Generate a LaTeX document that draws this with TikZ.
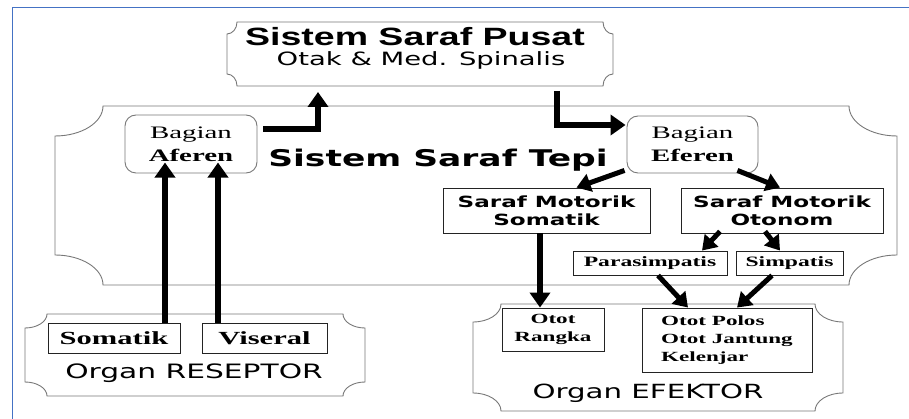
\documentclass[tikz,border=0pt]{standalone}
\usepackage{fontspec}
\usetikzlibrary{arrows.meta,calc}
\newfontfamily\headfont[FakeStretch=1.5]{Liberation Sans}
\newfontfamily\comicfont[FakeStretch=1.5]{DejaVu Sans}
\newfontfamily\bodyfont[FakeStretch=1.65]{Liberation Serif}
\definecolor{frameblue}{RGB}{68,114,196}
\definecolor{linegray}{RGB}{120,120,120}
\definecolor{boxblack}{RGB}{35,35,35}

% frame with hollow corners round an empty node
\newcommand{\plaqueframe}[3]{%
  \draw[plaqueline] let \p1=(#1.north west), \p2=(#1.south east) in
    (\x1+#2,\y1) -- (\x2-#2,\y1)
    arc[start angle=180, end angle=270, x radius=#2, y radius=#3]
    -- (\x2,\y2+#3)
    arc[start angle=90, end angle=180, x radius=#2, y radius=#3]
    -- (\x1+#2,\y2)
    arc[start angle=0, end angle=90, x radius=#2, y radius=#3]
    -- (\x1,\y1-#3)
    arc[start angle=270, end angle=360, x radius=#2, y radius=#3]
    -- cycle;}

\tikzset{
  plaque/.style={inner sep=0pt, outer sep=0pt},
  plaqueline/.style={draw=linegray, line width=0.9pt},
  title/.style={anchor=base, inner sep=0pt},
  bagian/.style={draw=linegray, line width=0.9pt, rounded corners=11pt, inner sep=0pt,
    align=center, font=\bodyfont\fontsize{17.5}{23}\selectfont},
  motor/.style={draw=boxblack, line width=0.9pt, inner sep=0pt, align=center,
    font=\comicfont\bfseries\fontsize{15.4}{18}\selectfont},
  branch/.style={draw=boxblack, line width=0.9pt, inner sep=0pt, align=center,
    font=\bodyfont\bfseries\fontsize{14.3}{17}\selectfont},
  organ/.style={draw=boxblack, line width=0.9pt, inner sep=0pt,
    font=\bodyfont\bfseries\fontsize{14}{18}\selectfont},
  receptor/.style={draw=boxblack, line width=0.9pt, inner sep=0pt,
    font=\bodyfont\bfseries\fontsize{18.5}{22}\selectfont},
  bigarrow/.style={line width=6pt, -{Triangle[length=15pt,width=20pt]}},
  slantarrow/.style={line width=5pt, -{Triangle[length=14pt,width=18pt]}},
}

\begin{document}
\begin{tikzpicture}[x=1pt, y=1pt]
  \useasboundingbox (0,0) rectangle (909,-419);
  \draw[frameblue, line width=1pt] (12,-419) -- (12,-8) -- (909,-8);

  % Plaques
  \node[plaque, minimum width=842pt, minimum height=179pt] (tepi) at (476,-195.5) {};
  \node[plaque, minimum width=386pt, minimum height=64pt] (pusat) at (420,-54) {};
  \node[plaque, minimum width=340pt, minimum height=82pt] (reseptor) at (195,-355) {};
  \node[plaque, minimum width=370pt, minimum height=107pt] (efektor) at (658,-357.5) {};
  \plaqueframe{tepi}{48pt}{30pt}
  \plaqueframe{pusat}{10pt}{12pt}
  \plaqueframe{reseptor}{22pt}{14pt}
  \plaqueframe{efektor}{28pt}{18pt}

  % Titles
  \node[title, font=\headfont\bfseries\fontsize{25}{30}\selectfont] (pusattitle) at (415,-46) {Sistem Saraf Pusat};
  \node[title, font=\comicfont\fontsize{18.3}{22}\selectfont] (pusatsub) at (421,-66) {Otak \& Med. Spinalis};
  \node[title, font=\comicfont\bfseries\fontsize{23}{28}\selectfont] (tepititle) at (438,-167) {Sistem Saraf Tepi};
  \node[title, font=\comicfont\fontsize{19.8}{24}\selectfont] (reseptortitle) at (194,-378) {Organ RESEPTOR};
  \node[title, font=\comicfont\fontsize{19.5}{24}\selectfont] (efektortitle) at (648,-398) {Organ EFEKTOR};

  % Boxes
  \node[bagian, minimum width=132pt, minimum height=58pt] (aferen) at (191,-144) {Bagian\\\textbf{Aferen}};
  \node[bagian, minimum width=131pt, minimum height=57pt] (eferen) at (692.5,-144.5) {Bagian\\\textbf{Eferen}};
  \node[motor, minimum width=207pt, minimum height=45pt] (msomatik) at (546.5,-210.5) {Saraf Motorik\\Somatik};
  \node[motor, minimum width=202pt, minimum height=45pt] (motonom) at (782,-210.5) {Saraf Motorik\\Otonom};
  \node[branch, minimum width=154pt, minimum height=24pt] (para) at (650,-263) {Parasimpatis};
  \node[branch, minimum width=107pt, minimum height=24pt] (simpatis) at (789.5,-263) {Simpatis};
  \node[organ, align=center, minimum width=102pt, minimum height=43pt] (rangka) at (553,-329.5) {Otot\\Rangka};
  \node[organ, align=left, minimum width=170pt, minimum height=64pt] (polos) at (727,-340) {Otot Polos\\Otot Jantung\\Kelenjar};
  \node[receptor, minimum width=132pt, minimum height=30pt] (somatik) at (114,-338) {Somatik};
  \node[receptor, minimum width=125pt, minimum height=30pt] (viseral) at (264.5,-338) {Viseral};

  % Arrows
  \draw[bigarrow] ([xshift=51pt]somatik.north) -- ($(somatik.north)+(51,160)$);
  \draw[bigarrow] ([xshift=-46.5pt]viseral.north) -- ($(viseral.north)+(-46.5,160)$);
  \draw[bigarrow] ([shift={(6pt,-14pt)}]aferen.north east) -| ([shift={(-102pt,-6pt)}]pusat.south);
  \draw[bigarrow] ([shift={(137pt,-5pt)}]pusat.south) |- ([shift={(-1pt,19.5pt)}]eferen.west);
  \draw[slantarrow] ([shift={(-2pt,3pt)}]eferen.south west) -- ([xshift=30pt]msomatik.north);
  \draw[slantarrow] ([shift={(-21pt,3pt)}]eferen.south east) -- ([xshift=-2pt]motonom.north);
  \draw[slantarrow] ([shift={(-62pt,2pt)}]motonom.south) -- ([xshift=52pt]para.north);
  \draw[slantarrow] ([shift={(-17pt,2pt)}]motonom.south) -- ([xshift=-9.5pt]simpatis.north);
  \draw[bigarrow] ([xshift=-6.5pt]msomatik.south) -- ([xshift=-13pt]rangka.north);
  \draw[slantarrow] ([xshift=8pt]para.south) -- ([xshift=-39pt]polos.north);
  \draw[slantarrow] ([xshift=-17.5pt]simpatis.south) -- ([xshift=10pt]polos.north);
\end{tikzpicture}
\end{document}
